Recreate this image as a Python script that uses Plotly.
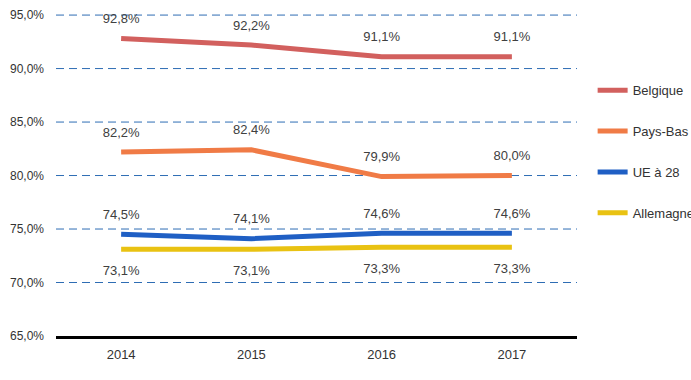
import plotly.graph_objects as go

years = ["2014", "2015", "2016", "2017"]
series_names = ["Belgique", "Pays-Bas", "UE à 28", "Allemagne"]
belgique = [92.8, 92.2, 91.1, 91.1]
pays_bas = [82.2, 82.4, 79.9, 80.0]
ue28 = [74.5, 74.1, 74.6, 74.6]
allemagne = [73.1, 73.1, 73.3, 73.3]
y_ticks = [65, 70, 75, 80, 85, 90, 95]

series_values = [belgique, pays_bas, ue28, allemagne]
colors = ["#D2605E", "#F07B46", "#1F5FC4", "#E9C212"]
text_pos = ["top center", "top center", "top center", "bottom center"]
label_gap = [18, 18, 18, 24]

FONT = "Liberation Sans, Arial"

fig = go.Figure()
for i, (name, vals) in enumerate(zip(series_names, series_values)):
    fig.add_trace(go.Scatter(
        x=years, y=vals, name=name, mode="lines",
        line=dict(color=colors[i], width=5),
        legendgroup=name,
    ))
for i, (name, vals) in enumerate(zip(series_names, series_values)):
    fig.add_trace(go.Scatter(
        x=years, y=vals, mode="markers+text", showlegend=False,
        marker=dict(size=label_gap[i], opacity=0),
        text=[f"{v:.1f}%".replace(".", ",") for v in vals],
        textposition=text_pos[i], cliponaxis=False,
        textfont=dict(family=FONT, size=13, color="#404040"),
        hoverinfo="skip",
    ))

shapes = []
for t in y_ticks[1:]:
    shapes.append(dict(
        type="line", xref="paper", x0=0, x1=1, yref="y", y0=t, y1=t,
        line=dict(color="#2E6DB4", width=1, dash="8px,5px"), layer="below",
    ))

fig.update_layout(
    width=691, height=380,
    margin=dict(l=56, r=114, t=14, b=44, autoexpand=False),
    plot_bgcolor="white", paper_bgcolor="white",
    font=dict(family=FONT, size=12, color="#333333"),
    shapes=shapes,
    legend=dict(
        x=1.03, xanchor="left", y=0.81, yanchor="top",
        font=dict(family=FONT, size=13, color="#333333"),
        tracegroupgap=21,
        bgcolor="rgba(0,0,0,0)",
    ),
    showlegend=True,
)
fig.update_xaxes(
    type="category", range=[-0.5, 3.5],
    showgrid=False, showline=True, linecolor="black", linewidth=3,
    ticklabelstandoff=4,
    tickfont=dict(family=FONT, size=13, color="#333333"),
)
fig.update_yaxes(
    range=[65, 95.1], tickvals=y_ticks,
    ticktext=[f"{t:.1f}%".replace(".", ",") for t in y_ticks],
    showgrid=False, zeroline=False, showline=False,
    ticklabelstandoff=11,
    tickfont=dict(family=FONT, size=12, color="#333333"),
)

fig.write_html("out.html")
